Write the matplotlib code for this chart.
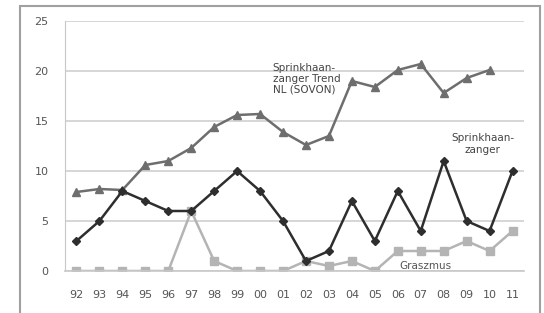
import matplotlib
matplotlib.use("Agg")
import matplotlib.pyplot as plt
from matplotlib.patches import Rectangle

# jaren 1992 - 2011
years = ['92', '93', '94', '95', '96', '97', '98', '99', '00', '01',
         '02', '03', '04', '05', '06', '07', '08', '09', '10', '11']

# Sprinkhaanzanger trend NL (SOVON), geen waarde voor 2011
trend = [7.9, 8.2, 8.1, 10.6, 11.0, 12.3, 14.4, 15.6, 15.7, 13.9,
         12.6, 13.5, 19.0, 18.4, 20.1, 20.7, 17.8, 19.3, 20.1]
sprinkhaanzanger = [3, 5, 8, 7, 6, 6, 8, 10, 8, 5,
                    1, 2, 7, 3, 8, 4, 11, 5, 4, 10]
graszmus = [0, 0, 0, 0, 0, 6, 1, 0, 0, 0,
            1, 0.5, 1, 0, 2, 2, 2, 3, 2, 4]

fig = plt.figure(figsize=(5.44, 3.13), dpi=100)
fig.patches.append(Rectangle((20 / 544, -0.1), 520 / 544, 1.1 - 6 / 313,
                             transform=fig.transFigure, fill=False,
                             edgecolor='#a0a0a0', linewidth=1.5))

ax = fig.add_axes([65 / 544, 1 - 271 / 313, 459 / 544, 250 / 313])
x = list(range(len(years)))

ax.plot(x[:len(trend)], trend, color='#6e6e6e', lw=1.8, marker='^', ms=6,
        zorder=3)
ax.plot(x, sprinkhaanzanger, color='#2e2e2e', lw=1.8, marker='D', ms=4.5,
        zorder=4)
ax.plot(x, graszmus, color='#b4b4b4', lw=1.8, marker='s', ms=6, zorder=2)

ax.set_xlim(-0.5, len(years) - 0.5)
ax.set_ylim(0, 25)
ax.set_yticks([0, 5, 10, 15, 20, 25])
ax.set_xticks(x)
ax.set_xticklabels(years)
ax.yaxis.grid(True, color='#d0d0d0', lw=1.2)
ax.set_axisbelow(True)
for s in ['top', 'right']:
    ax.spines[s].set_visible(False)
ax.spines['left'].set_color('#c8c8c8')
ax.spines['bottom'].set_color('#c8c8c8')
ax.spines['bottom'].set_linewidth(1.2)
ax.tick_params(length=0, labelsize=8, labelcolor='#555555')
ax.tick_params(axis='y', pad=12)
ax.tick_params(axis='x', pad=14)

ax.text(8.55, 20.8, 'Sprinkhaan-\nzanger Trend\nNL (SOVON)', fontsize=7.5,
        color='#444444', va='top', ha='left', linespacing=1.1)
ax.text(17.7, 13.8, 'Sprinkhaan-\nzanger', fontsize=7.5, color='#444444',
        va='top', ha='center', linespacing=1.3)
ax.text(15.2, 0.5, 'Graszmus', fontsize=7.5, color='#555555',
        va='center', ha='center')

fig.savefig('out.png', dpi=100)
